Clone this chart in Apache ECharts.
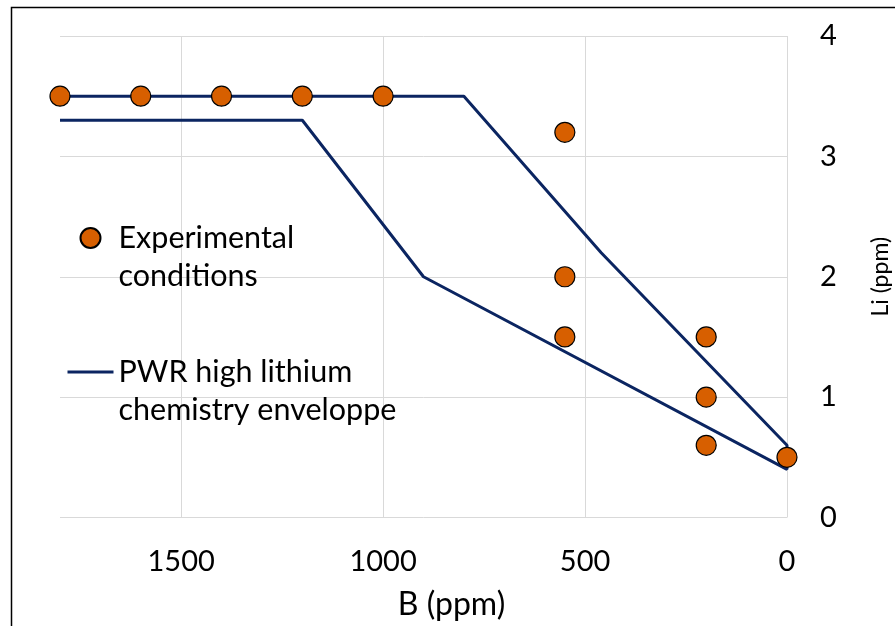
<!DOCTYPE html>
<html>
<head>
<meta charset="utf-8">
<script src="https://cdn.jsdelivr.net/npm/echarts@6/dist/echarts.min.js"></script>
<style>
html,body{margin:0;padding:0;background:#fff;}
#chart{width:895px;height:626px;}
</style>
</head>
<body>
<div id="chart"></div>
<script>
// Experimental conditions
const expB  = [1800, 1600, 1400, 1200, 1000, 550, 550, 550, 200, 200, 200, 0];
const expLi = [3.5, 3.5, 3.5, 3.5, 3.5, 3.2, 2, 1.5, 1.5, 1, 0.6, 0.5];
// PWR high lithium chemistry envelope (upper branch then lower branch)
const envB  = [1800, 800, 460, 0, 0, 900, 1200, 1800];
const envLi = [3.5, 3.5, 2.2, 0.6, 0.4, 2, 3.3, 3.3];
// Axis ticks
const xTicks = [0, 500, 1000, 1500];
const yTicks = [0, 1, 2, 3, 4];

const seriesNames = ['Experimental conditions', 'PWR high lithium chemistry enveloppe'];
const legendLabels = {
  'Experimental conditions': '\nExperimental\nconditions',
  'PWR high lithium chemistry enveloppe': '\nPWR high lithium\nchemistry enveloppe'
};

const FONT = 'Lato';
const chart = echarts.init(document.getElementById('chart'), null, {renderer: 'canvas'});
chart.setOption({
  backgroundColor: '#fff',
  animation: false,
  textStyle: {fontFamily: FONT},
  graphic: [{
    type: 'rect', silent: true, z: -1,
    shape: {x: 11.5, y: 7.5, width: 1000, height: 1000},
    style: {fill: 'none', stroke: '#000', lineWidth: 1.5}
  }],
  grid: {left: 60, right: 108, top: 36, bottom: 108.5, outerBoundsMode: 'none', containLabel: false},
  legend: {
    orient: 'vertical', left: 66, top: 181, padding: 0,
    itemWidth: 46, itemHeight: 20, itemGap: 20,
    data: [
      {name: seriesNames[0]},
      {name: seriesNames[1], itemStyle: {opacity: 0}, lineStyle: {width: 3, color: '#0B2561'}}
    ],
    formatter: n => legendLabels[n],
    textStyle: {fontFamily: FONT, fontSize: 30.5, lineHeight: 38, color: '#000'}
  },
  xAxis: {
    type: 'value', inverse: true, min: 0, max: 1800, interval: 500,
    name: 'B (ppm)', nameLocation: 'middle', nameGap: 71,
    nameTextStyle: {fontFamily: FONT, fontSize: 32, color: '#000', padding: [0, 0, 0, 56]},
    axisLine: {show: false}, axisTick: {show: false},
    axisLabel: {fontFamily: FONT, fontSize: 29, color: '#000', margin: 30, showMaxLabel: false,
      formatter: v => xTicks.indexOf(v) >= 0 ? String(v) : ''},
    splitLine: {show: true, showMaxLine: false, lineStyle: {color: '#D9D9D9', width: 1}}
  },
  yAxis: {
    type: 'value', position: 'right', min: 0, max: 4, interval: 1,
    name: 'Li (ppm)', nameLocation: 'middle', nameGap: 82, nameRotate: 90,
    nameTextStyle: {fontFamily: FONT, fontSize: 23, color: '#000'},
    axisLine: {show: false}, axisTick: {show: false},
    axisLabel: {fontFamily: FONT, fontSize: 29, color: '#000', margin: 33,
      formatter: v => yTicks.indexOf(v) >= 0 ? String(v) : ''},
    splitLine: {show: true, lineStyle: {color: '#D9D9D9', width: 1}}
  },
  series: [
    {
      name: seriesNames[0], type: 'scatter', z: 3,
      symbol: 'circle', symbolSize: 20,
      itemStyle: {color: '#D75F00', borderColor: '#000', borderWidth: 1.2, opacity: 1},
      data: expB.map((b, i) => [b, expLi[i]])
    },
    {
      name: seriesNames[1], type: 'line', z: 2,
      symbol: 'none', showSymbol: false,
      lineStyle: {color: '#0B2561', width: 3},
      itemStyle: {color: '#0B2561'},
      data: envB.map((b, i) => [b, envLi[i]])
    }
  ]
});
</script>
</body>
</html>
